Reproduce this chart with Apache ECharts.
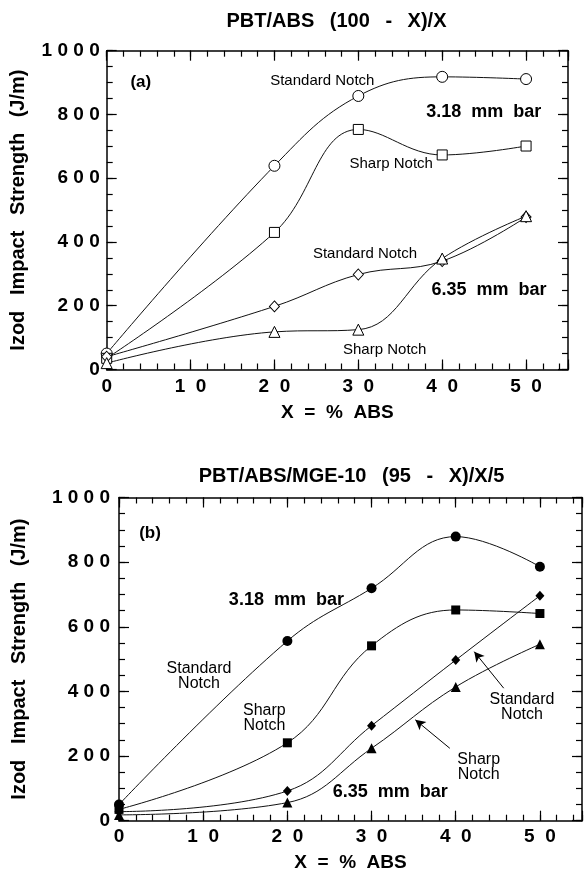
<!DOCTYPE html>
<html><head><meta charset="utf-8">
<script src="https://cdn.jsdelivr.net/npm/echarts@6/dist/echarts.min.js"></script>
<style>html,body{margin:0;padding:0;background:#fff}#c{width:585px;height:874px}</style>
</head><body><div id="c"></div>
<script>
// ---------- data ----------
const xValues = [0, 20, 30, 40, 50];
const xTickLabels = ['0', '1  0', '2  0', '3  0', '4  0', '5  0'];
const yTickLabels = ['0', '2 0 0', '4 0 0', '6 0 0', '8 0 0', '1 0 0 0'];

// (a) PBT/ABS (100 - X)/X
const aStdNotch318 = [50, 639, 858, 918, 911];
const aSharpNotch318 = [35, 430, 753, 673, 701];
const aStdNotch635 = [40, 198, 298, 340, 478];
const aSharpNotch635 = [20, 118, 125, 348, 481];

// (b) PBT/ABS/MGE-10 (95 - X)/X/5
const bStdNotch318 = [50, 556, 719, 879, 786];
const bSharpNotch318 = [35, 241, 541, 652, 641];
const bStdNotch635 = [28, 92, 294, 497, 696];
const bSharpNotch635 = [18, 56, 224, 414, 546];

const titleA = 'PBT/ABS\u2002 (100\u2002 -\u2002 X)/X';
const titleB = 'PBT/ABS/MGE-10\u2002 (95\u2002 -\u2002 X)/X/5';
const xName = 'X  =  %  ABS';
const yName = 'Izod\u2002 Impact\u2002 Strength\u2002 (J/m)';

// ---------- helpers ----------
const FONT = '"Liberation Sans", Arial, Helvetica, sans-serif';
const pairs = ys => xValues.map((x, i) => [x, ys[i]]);
const lineCol = '#000';

function xAxes(g, labelMargin, nameGap) {
  const common = {gridIndex: g, type: 'value', min: 0, max: 55, splitLine: {show: false}};
  return [
    Object.assign({}, common, {
      position: 'bottom', interval: 10,
      axisLine: {show: true, onZero: false, lineStyle: {color: lineCol, width: 1.5}},
      axisTick: {show: true, inside: true, length: 10, lineStyle: {color: lineCol, width: 1.2}},
      axisLabel: {show: true, margin: labelMargin, color: '#000', fontFamily: FONT, fontWeight: 'bold', fontSize: 19,
        formatter: v => (v % 10 === 0 ? xTickLabels[v / 10] : '')},
      name: xName, nameLocation: 'middle', nameGap: nameGap,
      nameTextStyle: {color: '#000', fontFamily: FONT, fontWeight: 'bold', fontSize: 19}
    }),
    Object.assign({}, common, {
      position: 'bottom', interval: 2,
      axisLine: {show: false, onZero: false},
      axisTick: {show: true, inside: true, length: 6, lineStyle: {color: lineCol, width: 1.2}},
      axisLabel: {show: false}
    }),
    Object.assign({}, common, {
      position: 'top', interval: 10,
      axisLine: {show: true, onZero: false, lineStyle: {color: lineCol, width: 1.5}},
      axisTick: {show: true, inside: true, length: 10, lineStyle: {color: lineCol, width: 1.2}},
      axisLabel: {show: false}
    }),
    Object.assign({}, common, {
      position: 'top', interval: 2,
      axisLine: {show: false, onZero: false},
      axisTick: {show: true, inside: true, length: 6, lineStyle: {color: lineCol, width: 1.2}},
      axisLabel: {show: false}
    })
  ];
}

function yAxes(g, labelMargin, nameGap) {
  const common = {gridIndex: g, type: 'value', min: 0, max: 1000, splitLine: {show: false}};
  return [
    Object.assign({}, common, {
      position: 'left', interval: 200,
      axisLine: {show: true, onZero: false, lineStyle: {color: lineCol, width: 1.5}},
      axisTick: {show: true, inside: true, length: 10, lineStyle: {color: lineCol, width: 1.2}},
      axisLabel: {show: true, margin: labelMargin, color: '#000', fontFamily: FONT, fontWeight: 'bold', fontSize: 19,
        formatter: v => yTickLabels[Math.round(v / 200)]},
      name: yName, nameLocation: 'middle', nameGap: nameGap,
      nameTextStyle: {color: '#000', fontFamily: FONT, fontWeight: 'bold', fontSize: 20}
    }),
    Object.assign({}, common, {
      position: 'left', interval: 50,
      axisLine: {show: false, onZero: false},
      axisTick: {show: true, inside: true, length: 6, lineStyle: {color: lineCol, width: 1.2}},
      axisLabel: {show: false}
    }),
    Object.assign({}, common, {
      position: 'right', interval: 200,
      axisLine: {show: true, onZero: false, lineStyle: {color: lineCol, width: 1.5}},
      axisTick: {show: true, inside: true, length: 10, lineStyle: {color: lineCol, width: 1.2}},
      axisLabel: {show: false}
    }),
    Object.assign({}, common, {
      position: 'right', interval: 50,
      axisLine: {show: false, onZero: false},
      axisTick: {show: true, inside: true, length: 6, lineStyle: {color: lineCol, width: 1.2}},
      axisLabel: {show: false}
    })
  ];
}

function lineSeries(axisIdx, ys, symbol, size, filled, extra) {
  return Object.assign({
    type: 'line', xAxisIndex: axisIdx, yAxisIndex: axisIdx,
    data: pairs(ys), smooth: 0.4, symbol: symbol, symbolSize: size, showSymbol: true,
    lineStyle: {color: '#111', width: 1},
    itemStyle: filled ? {color: '#000', borderColor: '#000', borderWidth: 0}
                      : {color: '#fff', borderColor: '#000', borderWidth: 1},
    emphasis: {disabled: true}, z: 3
  }, extra || {});
}

function txt(text, x, y, size, bold, extra) {
  return {type: 'text', x: x, y: y, z: 10, silent: true,
    style: Object.assign({text: text, fill: '#000', textAlign: 'center', textVerticalAlign: 'middle',
      font: (bold ? 'bold ' : '') + size + 'px ' + FONT}, extra || {})};
}

const arrowMark = {
  silent: true, symbol: ['none', 'arrow'], symbolSize: [8, 10],
  lineStyle: {color: '#000', width: 1, type: 'solid'}, label: {show: false},
  data: [
    [{coord: [45.7, 410]}, {coord: [42.2, 523]}],
    [{coord: [39.3, 224]}, {coord: [35.2, 312]}]
  ]
};

const option = {
  animation: false,
  backgroundColor: '#fff',
  grid: [
    {left: 106.7, top: 50.7, width: 461.3, height: 318.8},
    {left: 119, top: 497.5, width: 467.5, height: 323.2}
  ],
  xAxis: xAxes(0, 8, 34).concat(xAxes(1, 7, 33)),
  yAxis: yAxes(0, 7, 78).concat(yAxes(1, 9, 90)),
  series: [
    lineSeries(0, aStdNotch318, 'circle', 11, false),
    lineSeries(0, aSharpNotch318, 'rect', 10, false),
    lineSeries(0, aStdNotch635, 'diamond', [10, 11], false),
    lineSeries(0, aSharpNotch635, 'triangle', 11, false),
    lineSeries(4, bStdNotch318, 'circle', 10, true),
    lineSeries(4, bSharpNotch318, 'rect', 9, true),
    lineSeries(4, bStdNotch635, 'diamond', [9, 10], true),
    lineSeries(4, bSharpNotch635, 'triangle', 10, true, {markLine: arrowMark})
  ],
  graphic: [
    txt(titleA, 336.5, 21.7, 20, true),
    txt(titleB, 351.5, 476, 20, true),
    txt('(a)', 140.8, 82.7, 17, true),
    txt('Standard Notch', 322.3, 81, 15, false),
    txt('3.18  mm  bar', 483.8, 111.7, 18, true),
    txt('Sharp Notch', 391.2, 164.3, 15, false),
    txt('Standard Notch', 365, 254.3, 15, false),
    txt('6.35  mm  bar', 489, 290, 18, true),
    txt('Sharp Notch', 384.7, 350, 15, false),
    txt('(b)', 150, 533.3, 17, true),
    txt('3.18  mm  bar', 286.4, 600, 18, true),
    txt('Standard\nNotch', 199, 675.8, 16, false, {lineHeight: 15}),
    txt('Sharp\nNotch', 264.4, 718.4, 16, false, {lineHeight: 15}),
    txt('Standard\nNotch', 522, 706.8, 16, false, {lineHeight: 15}),
    txt('Sharp\nNotch', 478.7, 766.8, 16, false, {lineHeight: 15}),
    txt('6.35  mm  bar', 390.3, 791.7, 18, true)
  ]
};

const chart = echarts.init(document.getElementById('c'), null, {renderer: 'canvas'});
chart.setOption(option);
</script>
</body></html>
